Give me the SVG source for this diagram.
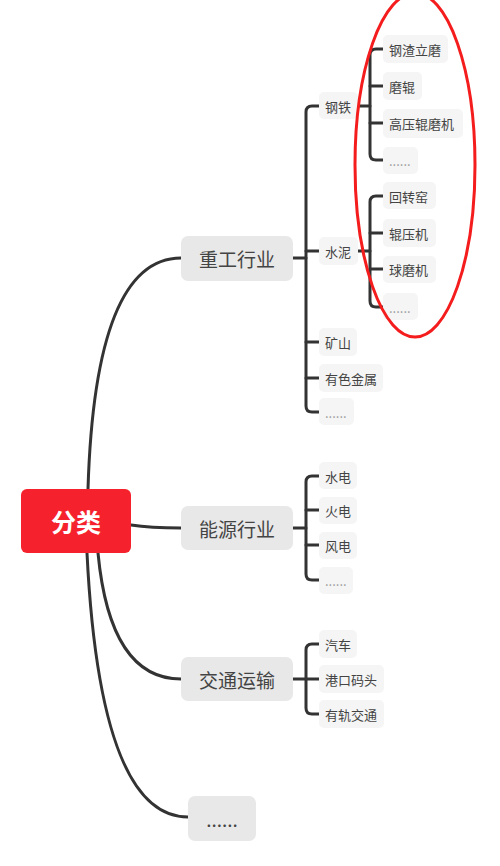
<svg xmlns="http://www.w3.org/2000/svg" width="500" height="866" viewBox="0 0 500 866">
<style>
text{font-family:"Noto Sans CJK SC","Liberation Sans",sans-serif;dominant-baseline:central}
.conn{fill:none;stroke:#333;stroke-width:3;stroke-linecap:round;stroke-linejoin:round}
.major rect{fill:#e8e8e8}
.major text{font-size:19px;fill:#444;text-anchor:middle}
.leaf rect{fill:#f5f5f5}
.leaf text{font-size:13px;fill:#444}
.leaf text.dots{fill:#999}
</style>
<rect width="500" height="866" fill="#fff"/>
<g id="connectors" class="conn">
  <path d="M88,489 Q95,258 181,258"/>
  <path d="M131,525 Q150,528 181,528"/>
  <path d="M98,553 Q110,679 181,679"/>
  <path d="M87,553 Q100,817 188,817"/>
  <path d="M293,258 H306"/>
  <path d="M319,106 H312 Q306,106 306,112 V406 Q306,412 312,412 H319"/>
  <path d="M306,251 H319 M306,342 H319 M306,378 H319"/>
  <path d="M358,106 H370"/>
  <path d="M383,49 H376 Q370,49 370,55 V154 Q370,160 376,160 H383"/>
  <path d="M370,86 H383 M370,123 H383"/>
  <path d="M358,251 H370"/>
  <path d="M383,196 H376 Q370,196 370,202 V301 Q370,307 376,307 H383"/>
  <path d="M370,233 H383 M370,269 H383"/>
  <path d="M293,528 H306"/>
  <path d="M319,476 H312 Q306,476 306,482 V574 Q306,580 312,580 H319"/>
  <path d="M306,510 H319 M306,545 H319"/>
  <path d="M293,679 H306"/>
  <path d="M319,644 H312 Q306,644 306,650 V708 Q306,714 312,714 H319"/>
  <path d="M306,679 H319"/>
</g>
<g id="root">
  <rect x="21" y="489" width="110" height="64" rx="6" fill="#f5222d"/>
  <text x="76" y="521" font-size="25" font-weight="bold" fill="#fff" text-anchor="middle">分类</text>
</g>
<g id="n-heavy" class="major"><rect x="181" y="236" width="112" height="45" rx="7"/><text x="237" y="258">重工行业</text></g>
<g id="n-energy" class="major"><rect x="181" y="506" width="112" height="44" rx="7"/><text x="237" y="528">能源行业</text></g>
<g id="n-traffic" class="major"><rect x="181" y="657" width="112" height="44" rx="7"/><text x="237" y="679">交通运输</text></g>
<g id="n-more" class="major"><rect x="188" y="796" width="68" height="45" rx="7"/><text x="222" y="818" fill="#555">......</text></g>

<g id="n-steel" class="leaf"><rect x="319" y="92" width="39" height="27" rx="5"/><text x="325" y="106">钢铁</text></g>
<g id="n-cement" class="leaf"><rect x="319" y="237" width="39" height="28" rx="5"/><text x="325" y="251">水泥</text></g>
<g id="n-mine" class="leaf"><rect x="319" y="328" width="38" height="28" rx="5"/><text x="325" y="342">矿山</text></g>
<g id="n-nonferrous" class="leaf"><rect x="319" y="364" width="64" height="28" rx="5"/><text x="325" y="378">有色金属</text></g>
<g id="n-heavy-more" class="leaf"><rect x="319" y="398" width="35" height="27" rx="5"/><text class="dots" x="325" y="412">......</text></g>

<g id="n-slag" class="leaf"><rect x="383" y="35" width="65" height="28" rx="5"/><text x="389" y="49">钢渣立磨</text></g>
<g id="n-roller" class="leaf"><rect x="383" y="72" width="39" height="28" rx="5"/><text x="389" y="86">磨辊</text></g>
<g id="n-hpgr" class="leaf"><rect x="383" y="109" width="80" height="29" rx="5"/><text x="389" y="123">高压辊磨机</text></g>
<g id="n-steel-more" class="leaf"><rect x="383" y="147" width="35" height="27" rx="5"/><text class="dots" x="389" y="160">......</text></g>

<g id="n-kiln" class="leaf"><rect x="383" y="182" width="53" height="27" rx="5"/><text x="389" y="196">回转窑</text></g>
<g id="n-press" class="leaf"><rect x="383" y="219" width="53" height="28" rx="5"/><text x="389" y="233">辊压机</text></g>
<g id="n-ball" class="leaf"><rect x="383" y="256" width="53" height="27" rx="5"/><text x="389" y="269">球磨机</text></g>
<g id="n-cement-more" class="leaf"><rect x="383" y="293" width="35" height="27" rx="5"/><text class="dots" x="389" y="307">......</text></g>

<g id="n-hydro" class="leaf"><rect x="319" y="462" width="38" height="27" rx="5"/><text x="325" y="476">水电</text></g>
<g id="n-thermal" class="leaf"><rect x="319" y="497" width="38" height="27" rx="5"/><text x="325" y="510">火电</text></g>
<g id="n-wind" class="leaf"><rect x="319" y="532" width="38" height="27" rx="5"/><text x="325" y="545">风电</text></g>
<g id="n-energy-more" class="leaf"><rect x="319" y="567" width="34" height="27" rx="5"/><text class="dots" x="325" y="580">......</text></g>

<g id="n-car" class="leaf"><rect x="319" y="630" width="38" height="28" rx="5"/><text x="325" y="644">汽车</text></g>
<g id="n-port" class="leaf"><rect x="319" y="665" width="65" height="28" rx="5"/><text x="325" y="679">港口码头</text></g>
<g id="n-rail" class="leaf"><rect x="319" y="700" width="65" height="28" rx="5"/><text x="325" y="714">有轨交通</text></g>

<ellipse id="highlight" cx="415" cy="165" rx="60" ry="172" fill="none" stroke="#f41c1c" stroke-width="3"/>
</svg>
